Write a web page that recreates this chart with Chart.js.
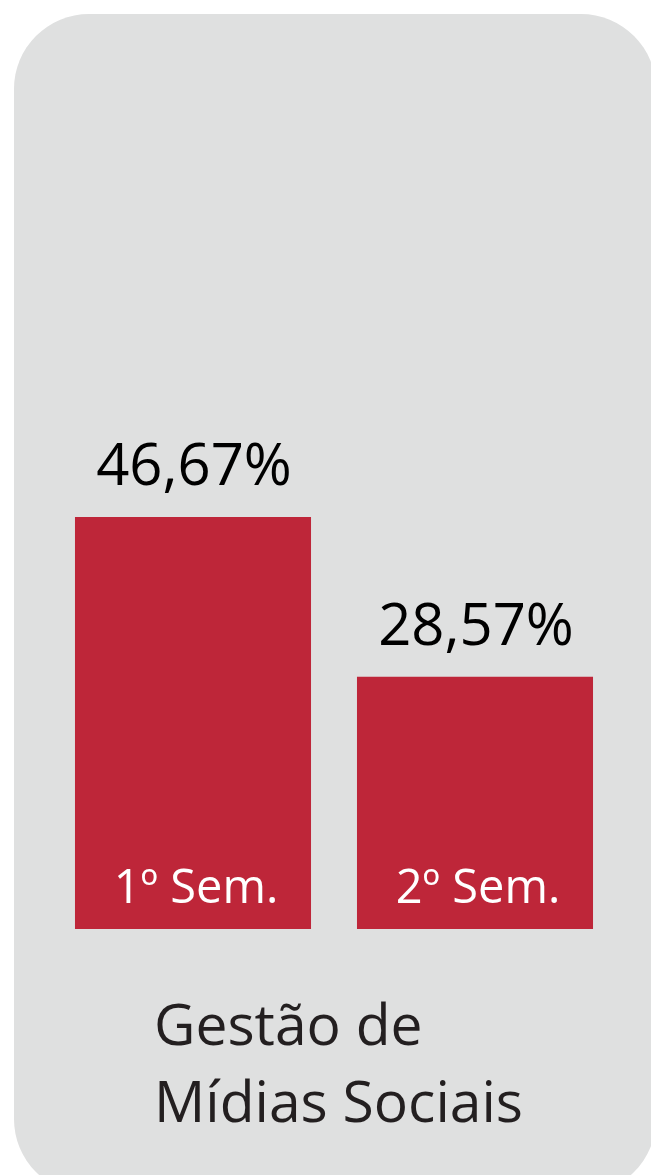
<!DOCTYPE html>
<html>
<head>
<meta charset="utf-8">
<script src="https://cdn.jsdelivr.net/npm/chart.js@4"></script>
<style>
  html, body { margin: 0; padding: 0; background: #fff; }
  #wrap { position: relative; width: 651px; height: 1175px; overflow: hidden; }
  #panel { position: absolute; left: 14px; top: 14px; width: 642px; height: 1180px;
           border-radius: 75px; background: #dfe0e0; }
  #c { position: absolute; left: 0; top: 0; }
</style>
</head>
<body>
<div id="wrap">
  <div id="panel"></div>
  <canvas id="c" width="651" height="1175"></canvas>
</div>
<script>
var categories = ['1º Sem.', '2º Sem.'];
var values = [46.67, 28.57];
var valueLabels = ['46,67%', '28,57%'];
var titleLines = ['Gestão de', 'Mídias Sociais'];

var FONT = '"Open Sans", "Noto Sans", sans-serif';

var textPlugin = {
  id: 'textPlugin',
  afterDatasetsDraw: function (chart) {
    var ctx = chart.ctx;
    var bars = chart.getDatasetMeta(0).data;
    ctx.save();
    ctx.textAlign = 'center';
    ctx.textBaseline = 'alphabetic';
    bars.forEach(function (bar, i) {
      // value above the bar
      ctx.fillStyle = '#000';
      ctx.font = '58px ' + FONT;
      ctx.fillText(valueLabels[i], bar.x + 1, bar.y - 32);
      // category inside the bar, near the bottom
      ctx.fillStyle = '#fff';
      ctx.font = '47px ' + FONT;
      ctx.fillText(categories[i], bar.x + 3, chart.chartArea.bottom - 26);
    });
    // title under the bars
    ctx.textAlign = 'left';
    ctx.fillStyle = '#231f20';
    ctx.font = '57px ' + FONT;
    ctx.fillText(titleLines[0], 154, 1045);
    ctx.fillText(titleLines[1], 154, 1122);
    ctx.restore();
  }
};

new Chart(document.getElementById('c'), {
  type: 'bar',
  data: {
    labels: categories,
    datasets: [{
      data: values,
      backgroundColor: '#be2639',
      borderWidth: 0,
      categoryPercentage: 1,
      barPercentage: 0.837
    }]
  },
  options: {
    responsive: false,
    animation: false,
    layout: { padding: { left: 52, right: 35, top: 46, bottom: 246 } },
    plugins: { legend: { display: false }, tooltip: { enabled: false }, title: { display: false } },
    scales: {
      x: { display: false },
      y: { display: false, min: 0, max: 100 }
    }
  },
  plugins: [textPlugin]
});
</script>
</body>
</html>
